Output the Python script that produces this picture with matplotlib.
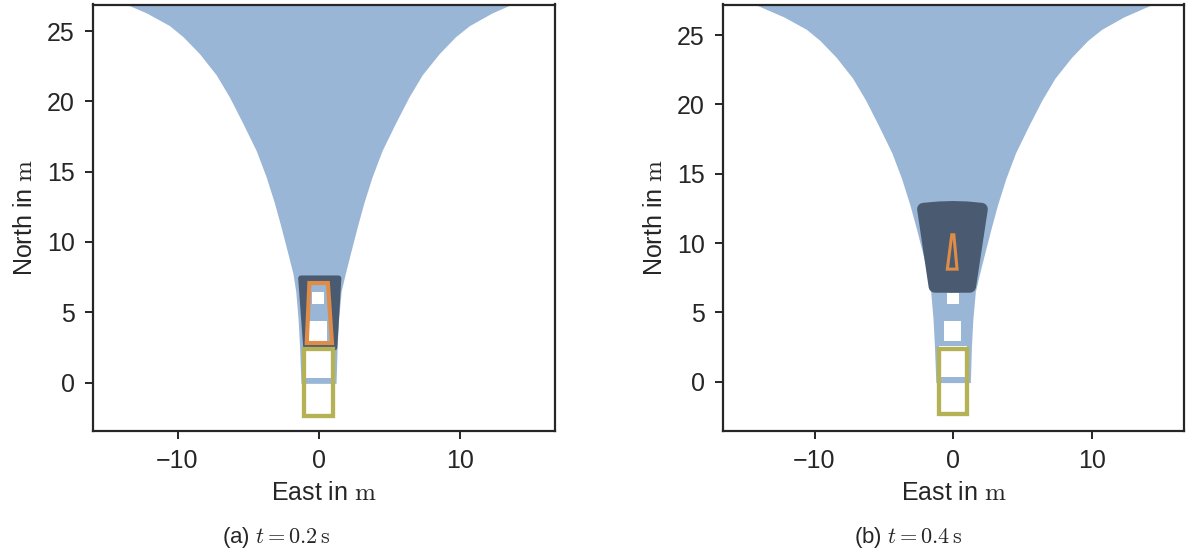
import matplotlib
matplotlib.use("Agg")
import matplotlib.pyplot as plt
from matplotlib.patches import Polygon, Rectangle

# reachable set outline (shared by both panels): north, east-left, east-right
FUNNEL_Y = [27.6, 26.87, 26.3, 25.4, 24.6, 23.4, 21.9, 20.3, 18.45, 16.5, 14.65,
            12.75, 11.1, 9.2, 7.77, 6.5, 4.5, 2.6, -0.06]
FUNNEL_LEFT = [-15.2, -13.52, -12.2, -10.57, -9.6, -8.44, -7.26, -6.31, -5.37, -4.42, -3.72,
               -3.12, -2.67, -2.18, -1.82, -1.62, -1.45, -1.35, -1.25]
FUNNEL_RIGHT = [15.3, 13.6, 12.3, 10.7, 9.7, 8.55, 7.35, 6.4, 5.45, 4.5, 3.8,
                3.2, 2.75, 2.26, 1.9, 1.6, 1.42, 1.32, 1.24]

# gaps inside the reachable set
GAP_X0 = [-0.45, -0.68, -1.0]
GAP_X1 = [0.42, 0.6, 1.0]
GAP_Y0 = [5.62, 2.95, 0.34]
GAP_Y1 = [6.42, 4.35, 2.6]

# initial vehicle footprint
EGO_X = [-1.0, 1.0, 1.0, -1.0]
EGO_Y = [-2.35, -2.35, 2.35, 2.35]

# occupancy at t (dark) and remaining set (orange) per panel
OCC_A_X = [-1.25, 1.42, 1.13, -0.89]
OCC_A_Y = [7.42, 7.42, 2.48, 2.48]
OCC_B_X = [-2.15, -1.0, 0.0, 1.0, 2.05, 1.2, -1.32]
OCC_B_Y = [12.45, 12.55, 12.58, 12.55, 12.45, 6.87, 6.87]

SET_A_X = [-0.65, 0.66, 0.95, -0.84]
SET_A_Y = [7.08, 7.08, 2.81, 2.81]
SET_B_X = [-0.1, 0.05, 0.28, -0.42]
SET_B_Y = [10.6, 10.6, 8.12, 8.12]

TIMES = ["0.2", "0.4"]
LABELS = ["(a)", "(b)"]

C_REACH = "#9ab6d6"
C_OCC = "#4a5a70"
C_SET = "#de8c46"
C_EGO = "#b4b255"

plt.rcParams.update({
    "font.family": ["Liberation Sans", "DejaVu Sans"],
    "mathtext.fontset": "cm",
    "axes.edgecolor": "#262626",
    "axes.linewidth": 1.6,
    "xtick.color": "#262626",
    "ytick.color": "#262626",
    "xtick.major.size": 6,
    "ytick.major.size": 6,
    "xtick.major.width": 1.4,
    "ytick.major.width": 1.4,
    "xtick.labelsize": 18,
    "ytick.labelsize": 18,
    "axes.labelsize": 18,
    "text.color": "#262626",
    "axes.labelcolor": "#262626",
})


def draw_reach(ax, z, clip=None):
    arts = [ax.fill_betweenx(FUNNEL_Y, FUNNEL_LEFT, FUNNEL_RIGHT, color=C_REACH, lw=0, zorder=z)]
    for x0, x1, y0, y1 in zip(GAP_X0, GAP_X1, GAP_Y0, GAP_Y1):
        arts.append(ax.add_patch(Rectangle((x0, y0), x1 - x0, y1 - y0, facecolor="white",
                                           edgecolor="none", zorder=z + 0.1)))
    if clip is not None:
        for a in arts:
            a.set_clip_path(clip)


fig = plt.figure(figsize=(11.88, 5.54), dpi=100)
ax_a = fig.add_axes([93 / 1188, 1 - 431 / 554, 462 / 1188, 426.5 / 554])
ax_b = fig.add_axes([723 / 1188, 1 - 431 / 554, 461 / 1188, 426.5 / 554])

panels = [
    (ax_a, OCC_A_X, OCC_A_Y, 4.0, SET_A_X, SET_A_Y, 3.0, (-15.99, 16.76), (-3.45, 26.9), 276, True),
    (ax_b, OCC_B_X, OCC_B_Y, 9.0, SET_B_X, SET_B_Y, 2.2, (-16.6, 16.65), (-3.55, 27.2), 908, False),
]

for i, (ax, ox, oy, olw, sx, sy, slw, xl, yl, cap_x, see_through) in enumerate(panels):
    draw_reach(ax, 1)
    ax.add_patch(Polygon(list(zip(ox, oy)), closed=True, facecolor=C_OCC,
                         edgecolor=C_OCC, lw=olw, joinstyle="round", zorder=3))
    if see_through:
        # the set below stays visible inside the orange outline
        inner = Polygon(list(zip(sx, sy)), closed=True, facecolor="none",
                        edgecolor="none", transform=ax.transData)
        draw_reach(ax, 3.5, clip=inner)
    ax.add_patch(Polygon(list(zip(sx, sy)), closed=True, fill=False,
                         edgecolor=C_SET, lw=slw, joinstyle="miter", zorder=4))
    ax.add_patch(Polygon(list(zip(EGO_X, EGO_Y)), closed=True, fill=False,
                         edgecolor=C_EGO, lw=3.1, joinstyle="miter", zorder=4))

    ax.set_xlim(*xl)
    ax.set_ylim(*yl)
    ax.set_xticks([-10, 0, 10])
    ax.set_yticks([0, 5, 10, 15, 20, 25])
    ax.set_xticklabels(["\u221210", "0", "10"])
    ax.set_xlabel(r"East in $\mathrm{m}$", labelpad=6)
    ax.set_ylabel(r"North in $\mathrm{m}$", labelpad=7)
    ax.tick_params(direction="out", pad=7)

    fig.text(cap_x / 1188, 1 - 537 / 554,
             LABELS[i] + r" $t = " + TIMES[i] + r"\,\mathrm{s}$",
             ha="center", va="center", fontsize=16)

fig.savefig("out.png", dpi=100)
